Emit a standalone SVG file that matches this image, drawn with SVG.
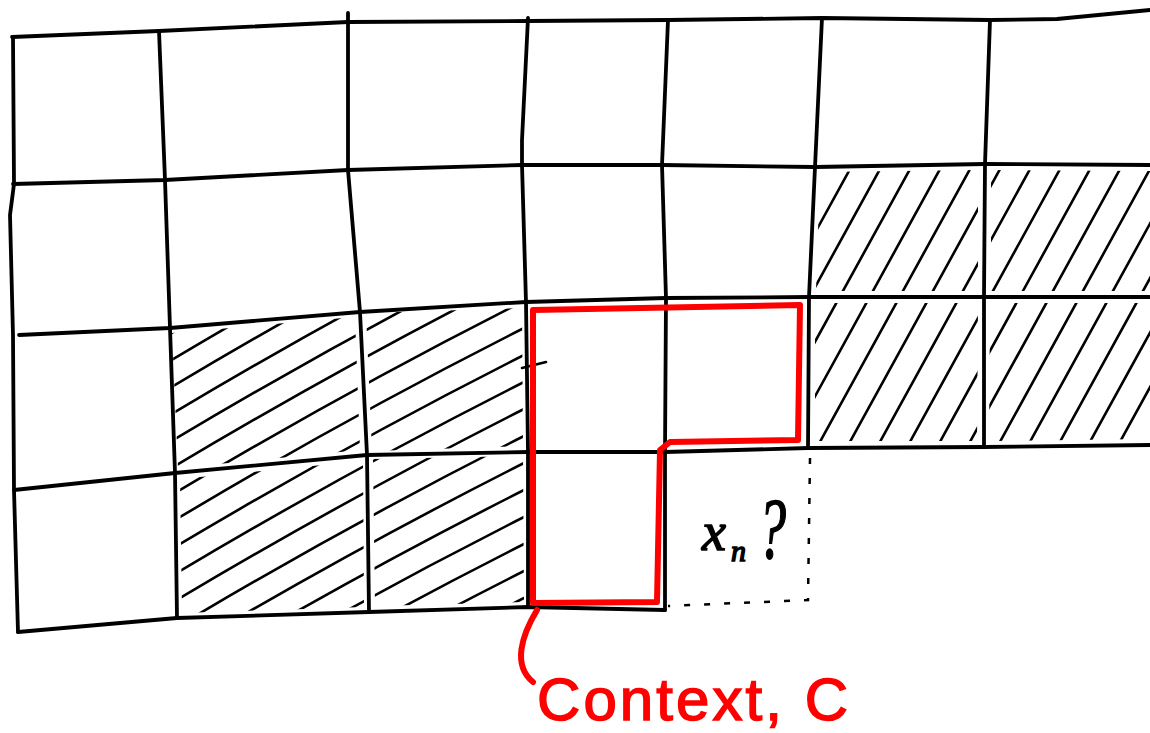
<svg xmlns="http://www.w3.org/2000/svg" width="1150" height="733" viewBox="0 0 1150 733">
<style>
.g{fill:none;stroke:#000;stroke-width:3.8;stroke-linejoin:round;stroke-linecap:round}
.h{fill:none;stroke:#000;stroke-width:2.6;stroke-linecap:round}
.d{fill:none;stroke:#000;stroke-width:2.5;stroke-dasharray:6 14}
.r{fill:none;stroke:#f00;stroke-width:6;stroke-linejoin:round;stroke-linecap:round}
.lab{font-family:"Liberation Sans",Arial,sans-serif;font-size:60px;fill:#f00;stroke:#f00;stroke-width:1.5}
.m{font-family:"Liberation Serif","Times New Roman",serif;font-style:italic;fill:#000;stroke:#000;stroke-width:1.5}
</style>
<defs>
<clipPath id="cl">
<polygon points="172,333 355,317 360,450 178,468"/>
<polygon points="366,313 522,308 523,446 372,451"/>
<polygon points="180,479 363,461 364,607 182,613"/>
<polygon points="373,459 523,456 524,602 375,606"/>
</clipPath>
<clipPath id="cr">
<polygon points="820,172 978,170 978,291 816,291"/>
<polygon points="991,170 1150,171 1150,291 991,291"/>
<polygon points="815,303 978,303 977,441 815,441"/>
<polygon points="990,303 1150,303 1150,439 989,441"/>
</clipPath>
</defs>
<rect width="1150" height="733" fill="#fff"/>
<g id="hatch-left" clip-path="url(#cl)">
<path class="h" d="M160,340 Q350,226 540,131 M160,367 Q350,253 540,158 M160,394 Q350,280 540,185 M160,421 Q350,307 540,212 M160,448 Q350,334 540,239 M160,475 Q350,361 540,266 M160,502 Q350,388 540,293 M160,529 Q350,415 540,320 M160,556 Q350,442 540,347 M160,583 Q350,469 540,374 M160,610 Q350,496 540,401 M160,637 Q350,523 540,428 M160,664 Q350,550 540,455 M160,691 Q350,577 540,482 M160,718 Q350,604 540,509 M160,745 Q350,631 540,536 M160,772 Q350,658 540,563 M160,799 Q350,685 540,590 M160,826 Q350,712 540,617"/>
</g>
<g id="hatch-right" clip-path="url(#cr)">
<path class="h" d="M660,460 L825,160 M690,460 L855,160 M720,460 L885,160 M750,460 L915,160 M780,460 L945,160 M810,460 L975,160 M840,460 L1005,160 M870,460 L1035,160 M900,460 L1065,160 M930,460 L1095,160 M960,460 L1125,160 M990,460 L1155,160 M1020,460 L1185,160 M1050,460 L1215,160 M1080,460 L1245,160 M1110,460 L1275,160 M1140,460 L1305,160"/>
</g>
<g id="grid">
<polyline class="g" points="12,37 159,31 348,22 528,21 668,20 822,18 990,20 1057,19 1150,10"/>
<polyline class="g" points="13,184 165,180 348,170 522,165 662,165 815,167 985,164 1150,165"/>
<polyline class="g" points="19,335 170,328 360,312 526,302 666,298 809,297 984,297 1150,297"/>
<polyline class="g" points="14,490 175,473 367,455 528,452 665,452 808,448 984,447 1150,445"/>
<polyline class="g" points="18,632 177,618 369,612 528,607 665,610"/>
<polyline class="g" points="13,37 14,184 10,215 13,335 14,490 18,632"/>
<polyline class="g" points="159,31 165,180 170,328 175,473 177,618"/>
<polyline class="g" points="348,13 348,170 360,312 367,455 369,612"/>
<polyline class="g" points="528,18 522,140 522,165 526,302 528,452 528,607"/>
<polyline class="g" points="668,20 662,165 666,298 665,452 665,610"/>
<polyline class="g" points="822,18 815,167 809,297 808,448"/>
<polyline class="g" points="990,20 985,164 984,297 984,447"/>
<line class="h" x1="522" y1="368" x2="546" y2="362"/>
</g>
<g id="target-cell">
<path class="d" d="M810,458 L808,600 L668,606"/>
<text class="m" x="702" y="550" font-size="54">x</text>
<text class="m" x="731" y="561" font-size="30">n</text>
<text class="m" x="758" y="558" font-size="86" textLength="28" lengthAdjust="spacingAndGlyphs">?</text>
</g>
<g id="context">
<path class="r" d="M533,310 L800,305 L798,440 L670,442 L660,450 L657,602 L533,603 Z"/>
</g>
<g id="connectors">
<path class="r" d="M537,610 C522,635 512,665 533,682"/>
</g>
<g id="label">
<text class="lab" x="537" y="720" textLength="311" lengthAdjust="spacing">Context, C</text>
</g>
</svg>
